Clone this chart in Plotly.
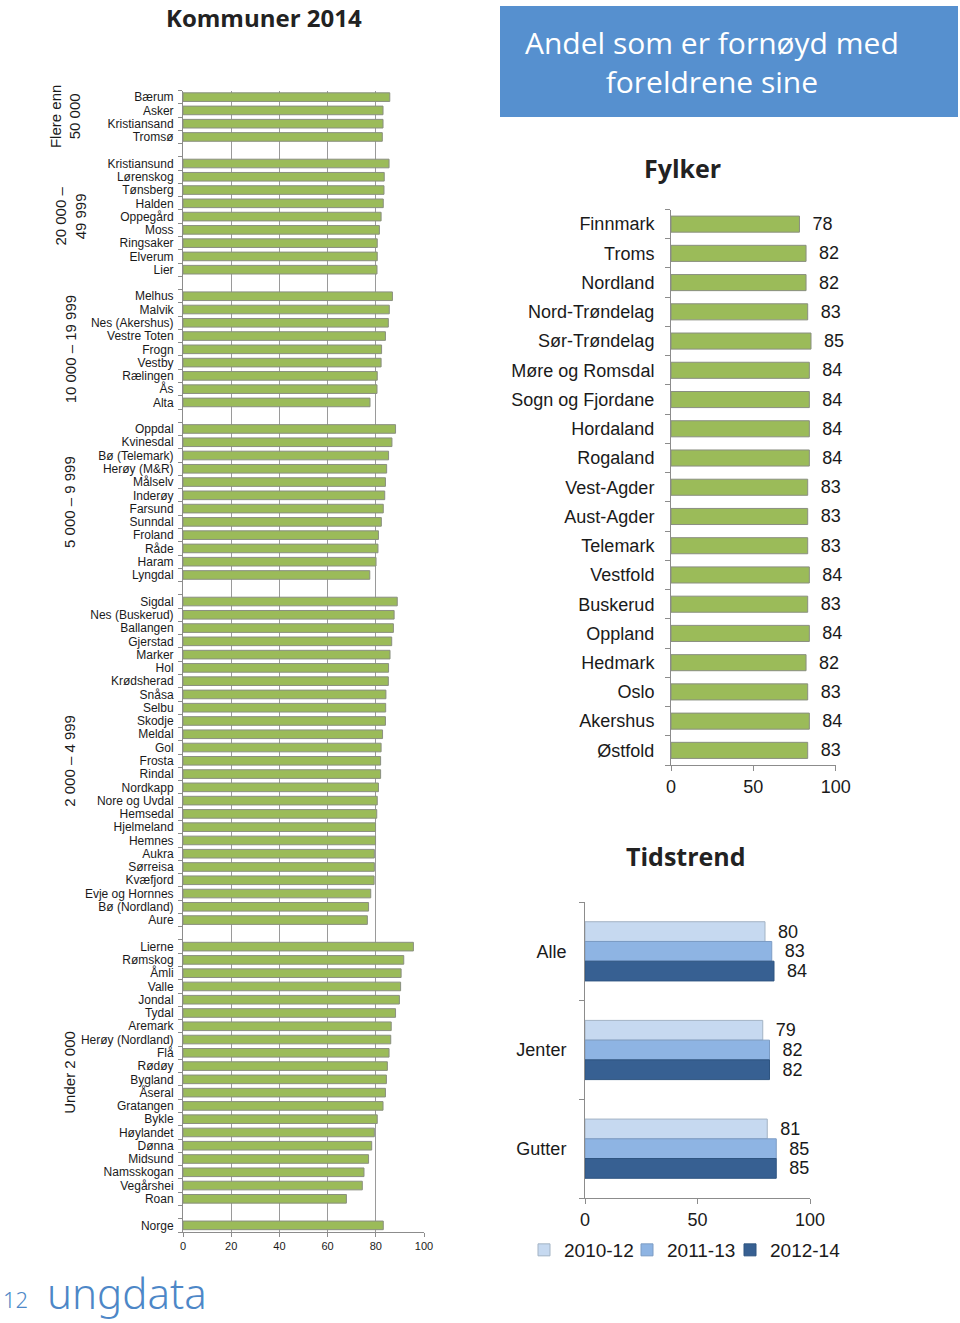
import plotly.graph_objects as go

# ---------------- DATA ----------------
group_labels = ["Flere enn<br>50 000", "20 000 –<br>49 999", "10 000 – 19 999",
                "5 000 – 9 999", "2 000 – 4 999", "Under 2 000"]

g1_names = ["Bærum", "Asker", "Kristiansand", "Tromsø"]
g1_vals = [85.8, 83.0, 83.0, 82.7]

g2_names = ["Kristiansund", "Lørenskog", "Tønsberg", "Halden", "Oppegård", "Moss",
            "Ringsaker", "Elverum", "Lier"]
g2_vals = [85.5, 83.5, 83.4, 83.1, 82.2, 81.5, 80.6, 80.6, 80.5]

g3_names = ["Melhus", "Malvik", "Nes (Akershus)", "Vestre Toten", "Frogn", "Vestby",
            "Rælingen", "Ås", "Alta"]
g3_vals = [86.9, 85.6, 85.2, 84.0, 82.4, 82.2, 80.6, 80.5, 77.6]

g4_names = ["Oppdal", "Kvinesdal", "Bø (Telemark)", "Herøy (M&R)", "Målselv", "Inderøy",
            "Farsund", "Sunndal", "Froland", "Råde", "Haram", "Lyngdal"]
g4_vals = [88.2, 86.7, 85.3, 84.5, 84.0, 83.7, 83.1, 82.3, 81.1, 80.9, 80.1, 77.5]

g5_names = ["Sigdal", "Nes (Buskerud)", "Ballangen", "Gjerstad", "Marker", "Hol",
            "Krødsherad", "Snåsa", "Selbu", "Skodje", "Meldal", "Gol", "Frosta", "Rindal",
            "Nordkapp", "Nore og Uvdal", "Hemsedal", "Hjelmeland", "Hemnes", "Aukra",
            "Sørreisa", "Kvæfjord", "Evje og Hornnes", "Bø (Nordland)", "Aure"]
g5_vals = [88.9, 87.6, 87.3, 86.6, 85.9, 85.3, 85.2, 84.2, 84.1, 84.0, 82.8, 82.2, 82.0,
           82.0, 81.1, 80.6, 80.4, 79.9, 79.9, 79.4, 79.4, 79.3, 77.9, 77.0, 76.5]

g6_names = ["Lierne", "Rømskog", "Åmli", "Valle", "Jondal", "Tydal", "Aremark",
            "Herøy (Nordland)", "Flå", "Rødøy", "Bygland", "Åseral", "Gratangen", "Bykle",
            "Høylandet", "Dønna", "Midsund", "Namsskogan", "Vegårshei", "Roan"]
g6_vals = [95.6, 91.6, 90.5, 90.3, 89.8, 88.2, 86.4, 86.2, 85.5, 84.8, 84.4, 84.0, 83.0,
           80.6, 79.4, 78.3, 77.0, 75.1, 74.4, 67.8]

norge_name = "Norge"
norge_val = 83.1

kommune_ticks = [0, 20, 40, 60, 80, 100]

fylker = ["Finnmark", "Troms", "Nordland", "Nord-Trøndelag", "Sør-Trøndelag",
          "Møre og Romsdal", "Sogn og Fjordane", "Hordaland", "Rogaland", "Vest-Agder",
          "Aust-Agder", "Telemark", "Vestfold", "Buskerud", "Oppland", "Hedmark", "Oslo",
          "Akershus", "Østfold"]
fylker_vals = [78, 82, 82, 83, 85, 84, 84, 84, 84, 83, 83, 83, 84, 83, 84, 82, 83, 84, 83]

trend_cats = ["Alle", "Jenter", "Gutter"]
trend_series = ["2010-12", "2011-13", "2012-14"]
trend_2010_12 = [80, 79, 81]
trend_2011_13 = [83, 82, 85]
trend_2012_14 = [84, 82, 85]

right_ticks = [0, 50, 100]

# ---------------- BUILD ROWS ----------------
groups = [(g1_names, g1_vals), (g2_names, g2_vals), (g3_names, g3_vals),
          (g4_names, g4_vals), (g5_names, g5_vals), (g6_names, g6_vals)]
ypos, names, vals, group_centers = [], [], [], []
p = 0
for gn, gv in groups:
    start = p
    for n, v in zip(gn, gv):
        ypos.append(p); names.append(n); vals.append(v); p += 1
    group_centers.append((start + p - 1) / 2)
    p += 1
ypos.append(p); names.append(norge_name); vals.append(norge_val)
nrows = p + 1

W, H = 960, 1323
def px(x): return x / W
def py(y): return 1 - y / H

GREEN = "#9bbb59"
GREEN_LINE = "#8a8f80"
AXIS = "#8c8c8c"
TXT = "#1a1a1a"
FONT = "Liberation Sans"
NB = "\u00a0\u00a0"

fig = go.Figure()

fig.add_trace(go.Bar(
    x=vals, y=ypos, orientation="h", marker=dict(color=GREEN, line=dict(color=GREEN_LINE, width=1)),
    width=0.65, showlegend=False, xaxis="x", yaxis="y", hoverinfo="x+text", text=names,
    textposition="none"))

fig.add_trace(go.Bar(
    x=fylker_vals, y=list(range(len(fylker))), orientation="h",
    marker=dict(color=GREEN, line=dict(color=GREEN_LINE, width=1)),
    width=0.55, showlegend=False, xaxis="x2", yaxis="y2",
    text=[NB + str(v) for v in fylker_vals], textposition="outside", cliponaxis=False,
    constraintext="none", textfont=dict(size=18, color=TXT, family=FONT)))

trend_colors = ["#c6d9f0", "#8eb4e3", "#376092"]
trend_lines = ["#a3b3c4", "#7c9cc4", "#2e5480"]
trend_legendwidths = [None, None, 78]
for name, data, c, lc, lw in zip(trend_series, [trend_2010_12, trend_2011_13, trend_2012_14],
                                 trend_colors, trend_lines, trend_legendwidths):
    fig.add_trace(go.Bar(
        x=data, y=list(range(len(trend_cats))), orientation="h", name=name,
        marker=dict(color=c, line=dict(color=lc, width=1)), legendwidth=lw,
        xaxis="x3", yaxis="y3", text=[NB + str(v) for v in data], textposition="outside",
        cliponaxis=False, constraintext="none",
        textfont=dict(size=18, color=TXT, family=FONT)))

fig.update_layout(
    width=W, height=H, margin=dict(l=0, r=0, t=0, b=0, autoexpand=False),
    autosize=False,
    paper_bgcolor="white", plot_bgcolor="white",
    font=dict(family=FONT, color=TXT),
    barmode="group", bargap=0.4, bargroupgap=0,
    xaxis=dict(domain=[px(183), px(424)], range=[0, 100], tickvals=kommune_ticks,
               showgrid=True, gridcolor="#9a9a9a", gridwidth=1, zeroline=False,
               showline=True, linecolor=AXIS, ticks="outside", ticklen=4, tickcolor=AXIS,
               tickfont=dict(size=11, color=TXT), anchor="y", automargin=False),
    yaxis=dict(domain=[py(1232), py(90.5)], range=[nrows - 0.5, -0.5],
               tickvals=ypos, ticktext=names, ticks="", showgrid=False, zeroline=False,
               showline=True, linecolor=AXIS, tickfont=dict(size=12, color=TXT),
               ticklabelstandoff=6, anchor="x", automargin=False,
               minor=dict(tickvals=[i - 0.5 for i in range(nrows + 1)], ticks="outside",
                          ticklen=4, tickcolor=AXIS, showgrid=False)),
    xaxis2=dict(domain=[px(671), px(835.7)], range=[0, 100], tickvals=right_ticks,
                showgrid=False, zeroline=False, showline=True, linecolor=AXIS,
                ticks="outside", ticklen=5, tickcolor=AXIS, automargin=False,
                tickfont=dict(size=18, color=TXT), anchor="y2"),
    yaxis2=dict(domain=[py(765), py(209.5)], range=[len(fylker) - 0.5, -0.5],
                tickvals=list(range(len(fylker))), ticktext=fylker, ticks="",
                showgrid=False, zeroline=False, showline=True, linecolor=AXIS,
                tickfont=dict(size=18, color=TXT), ticklabelstandoff=12, anchor="x2",
                automargin=False,
                minor=dict(tickvals=[i - 0.5 for i in range(len(fylker) + 1)],
                           ticks="outside", ticklen=5, tickcolor=AXIS, showgrid=False)),
    xaxis3=dict(domain=[px(585), px(810)], range=[0, 100], tickvals=right_ticks,
                showgrid=False, zeroline=False, showline=True, linecolor=AXIS,
                ticks="outside", ticklen=5, tickcolor=AXIS, automargin=False,
                tickfont=dict(size=18, color=TXT), anchor="y3"),
    yaxis3=dict(domain=[py(1198), py(902)], range=[len(trend_cats) - 0.5, -0.5],
                tickvals=list(range(len(trend_cats))), ticktext=trend_cats, ticks="",
                showgrid=False, zeroline=False, showline=True, linecolor=AXIS,
                tickfont=dict(size=18, color=TXT), ticklabelstandoff=14, anchor="x3",
                automargin=False,
                minor=dict(tickvals=[i - 0.5 for i in range(len(trend_cats) + 1)],
                           ticks="outside", ticklen=5, tickcolor=AXIS, showgrid=False)),
    legend=dict(orientation="h", x=px(524), xanchor="left", y=py(1231), yanchor="top",
                font=dict(size=19, color=TXT, family=FONT), itemwidth=30,
                entrywidth=58, entrywidthmode="pixels",
                tracegroupgap=0, bgcolor="rgba(0,0,0,0)"),
    showlegend=True,
)

# Blue header box
fig.add_shape(type="rect", xref="paper", yref="paper", x0=px(500), x1=px(958),
              y0=py(117), y1=py(6), fillcolor="#5690cf", line=dict(width=0), layer="below")

ann = []
ann.append(dict(text="Andel som er fornøyd med<br>foreldrene sine", xref="paper", yref="paper",
                x=px(712), y=py(62), xanchor="center", yanchor="middle", showarrow=False,
                font=dict(family="Open Sans", size=30, color="white")))
ann.append(dict(text="<b>Kommuner 2014</b>", xref="paper", yref="paper", x=px(264), y=py(17),
                xanchor="center", yanchor="middle", showarrow=False,
                font=dict(family="Open Sans", size=24, color="#222")))
ann.append(dict(text="<b>Fylker</b>", xref="paper", yref="paper", x=px(682), y=py(168),
                xanchor="center", yanchor="middle", showarrow=False,
                font=dict(family="Open Sans", size=25, color="#222")))
ann.append(dict(text="<b>Tidstrend</b>", xref="paper", yref="paper", x=px(686), y=py(856),
                xanchor="center", yanchor="middle", showarrow=False,
                font=dict(family="Open Sans", size=25, color="#222")))
group_x = [65, 71, 70, 70, 70, 70]
for lab, c, gx in zip(group_labels, group_centers, group_x):
    ann.append(dict(text=lab, xref="paper", yref="y", x=px(gx), y=c, xanchor="center",
                    yanchor="middle", showarrow=False, textangle=-90,
                    font=dict(family=FONT, size=15, color=TXT)))
ann.append(dict(text="12", xref="paper", yref="paper", x=px(15), y=py(1299),
                xanchor="center", yanchor="middle", showarrow=False,
                font=dict(family="Noto Sans", size=22, color="#4d87c7", weight=300)))
ann.append(dict(text="ungdata", xref="paper", yref="paper", x=px(127), y=py(1292),
                xanchor="center", yanchor="middle", showarrow=False,
                font=dict(family="Noto Sans", size=42, color="#4d87c7", weight=300)))
fig.update_layout(annotations=ann)

fig.write_html("out.html", config={"responsive": False},
               post_script="document.body.style.margin='0';document.body.style.overflow='hidden';")
